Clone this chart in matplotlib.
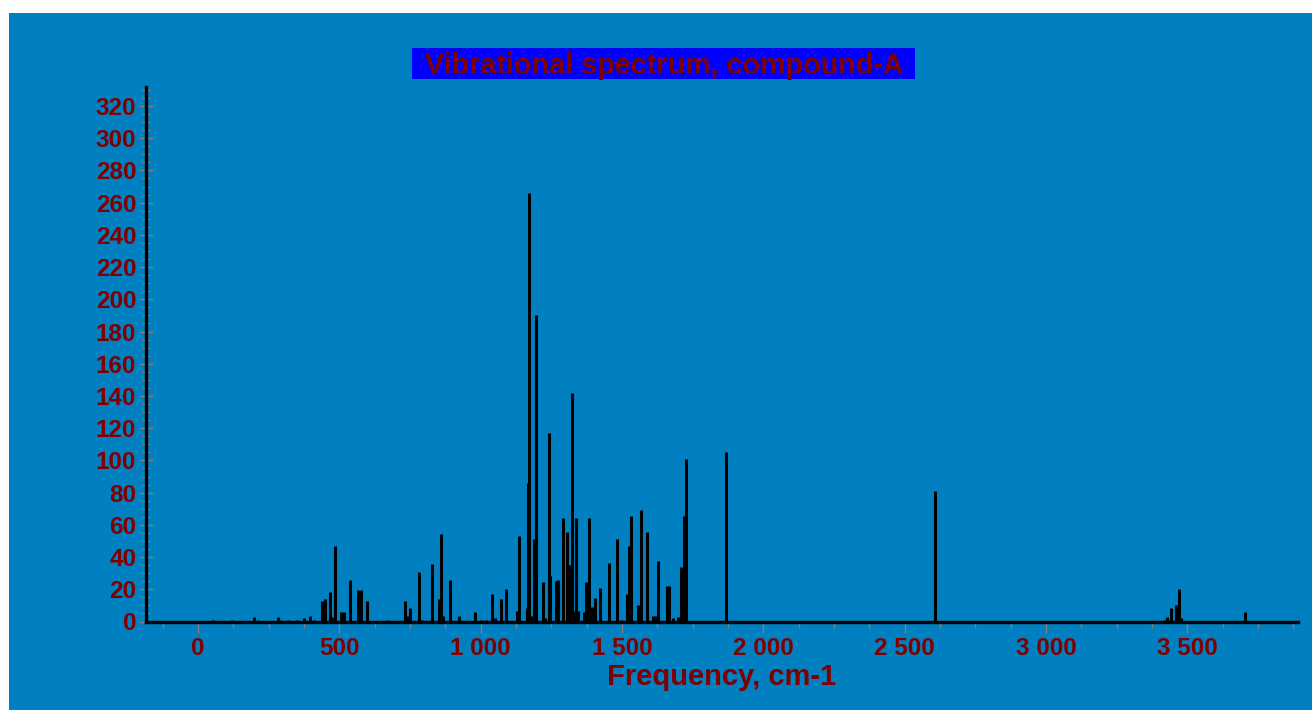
import matplotlib
matplotlib.use("Agg")
import matplotlib.pyplot as plt
from matplotlib.patches import Rectangle
from matplotlib.ticker import MultipleLocator, FuncFormatter

## spectrum lines: frequency (cm-1) and intensity
freq = [54, 119, 199, 213, 282, 290, 320, 349, 375, 396, 410,
        440, 450, 467, 474, 484, 506, 518, 539, 565, 577, 598, 668,
        734, 742, 751, 783, 794, 827, 853, 860, 868, 890, 925, 980, 1001, 1019,
        1039, 1051, 1071, 1088, 1130, 1137, 1164, 1168, 1170, 1181, 1190, 1197,
        1219, 1226, 1242, 1247, 1268, 1275, 1290, 1307, 1314, 1323, 1332, 1339,
        1346, 1367, 1372, 1383, 1394, 1405, 1421, 1454, 1481, 1495, 1518, 1524,
        1531, 1558, 1569, 1590, 1611, 1616, 1629, 1660, 1668, 1682, 1700, 1709,
        1719, 1726, 1868, 2609, 3292, 3422, 3430, 3443, 3461, 3470, 3477, 3705]
intensity = [1, 1, 2.7, 1, 2.7, 1, 1, 1, 2, 3.7, 1,
             13, 14, 18.5, 2.7, 47, 5.6, 5.6, 25.5, 19.3, 19.3, 13, 1,
             13, 3.7, 8.3, 31, 1, 35.7, 13.7, 54.6, 3.7, 25.5, 3.7, 5.6, 1, 1,
             17.3, 2, 13.7, 20, 6.4, 53, 8.3, 86, 266, 3.7, 51, 190,
             24.6, 2, 117, 28.3, 25, 25.5, 64, 55.5, 35.3, 142, 6.5, 64,
             6.8, 5.6, 24.6, 64.5, 9.3, 14.6, 21, 36.5, 51, 1, 17.3, 47,
             65.5, 10, 69, 55.5, 3.7, 3.7, 37.3, 22, 22, 2, 2.7, 34,
             65.5, 101, 105, 81, 0.6, 1, 3, 8.3, 10.4, 20, 2, 5.6]

x_ticks = [0, 500, 1000, 1500, 2000, 2500, 3000, 3500]

title = "Vibrational spectrum, compound-A"
x_label = "Frequency, cm-1"

bg = "#0080c0"
red = "#800000"

plt.rcParams['font.family'] = ['Liberation Sans', 'DejaVu Sans']
plt.rcParams['font.weight'] = 'bold'

fig = plt.figure(figsize=(13.12, 7.10), dpi=100, facecolor="white")
## blue panel with a thin white margin at top and left
fig.patches.append(Rectangle((9 / 1312, 0), 1 - 9 / 1312, 1 - 13 / 710,
                             transform=fig.transFigure, facecolor=bg,
                             edgecolor="none", zorder=-10))
## blue box behind the title
fig.patches.append(Rectangle((412 / 1312, 1 - 79 / 710), 503 / 1312, 31 / 710,
                             transform=fig.transFigure, facecolor="#0000ff",
                             edgecolor="none", zorder=-5))

ax = fig.add_axes([146 / 1312, 1 - 621.5 / 710, (1298 - 146) / 1312, (621.5 - 87) / 710])
ax.set_zorder(5)
ax.set_facecolor(bg)

ax.vlines(freq, 0, intensity, color="black", lw=2.2)

ax.set_xlim(-184, 3892)
ax.set_ylim(0, 331.8)

for side in ["top", "right"]:
    ax.spines[side].set_visible(False)
for side in ["left", "bottom"]:
    ax.spines[side].set_linewidth(2.4)
    ax.spines[side].set_color("black")

ax.set_xticks(x_ticks)
ax.xaxis.set_minor_locator(MultipleLocator(125))
ax.yaxis.set_major_locator(MultipleLocator(20))
ax.yaxis.set_minor_locator(MultipleLocator(5))
ax.xaxis.set_major_formatter(FuncFormatter(lambda v, p: "{:,}".format(int(v)).replace(",", " ")))

ax.tick_params(which="major", direction="out", length=8, width=1, color="gray",
               labelcolor=red, labelsize=17.5, pad=3)
ax.tick_params(which="minor", direction="out", length=4, width=1, color="gray")
ax.tick_params(axis="y", which="major", direction="inout", length=10, pad=2)
ax.tick_params(axis="y", which="minor", direction="inout", length=6)
for lab in ax.get_xticklabels() + ax.get_yticklabels():
    lab.set_fontweight("bold")

ax.set_xlabel(x_label, color=red, fontsize=21, fontweight="bold", labelpad=2)

fig.text(664 / 1312, 1 - 74.5 / 710, title, color=red, fontsize=20.7, fontweight="bold",
         ha="center", va="baseline", zorder=10)

fig.savefig("out.png", dpi=100, facecolor="white")
